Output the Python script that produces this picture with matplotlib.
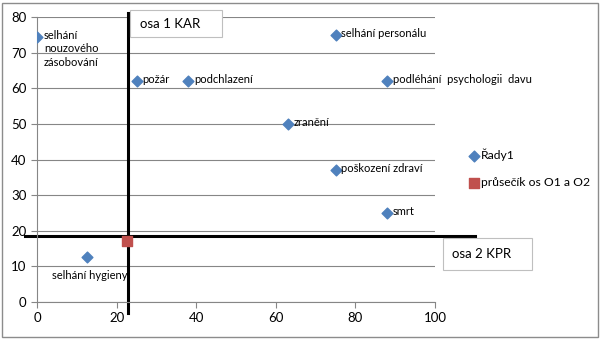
import matplotlib
matplotlib.use("Agg")
import matplotlib.pyplot as plt
from matplotlib.patches import Rectangle

plt.rcParams['font.family'] = ['Lato', 'DejaVu Sans']

# data
labels = ["selhání\nnouzového\nzásobování", "požár", "podchlazení", "zranění",
          "selhání personálu", "podléhání  psychologii  davu", "poškození zdraví",
          "smrt", "selhání hygieny"]
x_vals = [0, 25, 38, 63, 75, 88, 75, 88, 12.5]
y_vals = [74.5, 62, 62, 50, 75, 62, 37, 25, 12.5]
cross_x = [22.5]
cross_y = [17]
kar = 22.9   # osa 1
kpr = 18.5   # osa 2

fig = plt.figure(figsize=(6.05, 3.41), dpi=100)
fig.patches.append(Rectangle((0.004, 0.012), 0.984, 0.98, transform=fig.transFigure,
                             fill=False, edgecolor="#8c8c8c", linewidth=1))
ax = fig.add_axes([0.0612, 0.1144, 0.658, 0.8356])

ax.scatter(x_vals, y_vals, marker="D", s=30, color="#4F81BD", label="Řady1", zorder=3)
ax.scatter(cross_x, cross_y, marker="s", s=45, color="#C0504D",
           label="průsečík os O1 a O2", zorder=3)

for lab, xv, yv in zip(labels, x_vals, y_vals):
    if lab == "selhání hygieny":
        ax.annotate(lab, (xv, yv), xytext=(2, -9), textcoords="offset points",
                    fontsize=8, va="top", ha="center")
    elif lab.startswith("selhání\n"):
        ax.annotate(lab, (xv, yv), xytext=(5, 5), textcoords="offset points",
                    fontsize=8, va="top", ha="left", linespacing=1.3)
    else:
        ax.annotate(lab, (xv, yv), xytext=(4, 1), textcoords="offset points",
                    fontsize=8, va="center", ha="left")

# axis lines
ax.plot([kar, kar], [81, -3], color="black", lw=2.2, clip_on=False, zorder=2)
ax.plot([-3, 110], [kpr, kpr], color="black", lw=2.2, clip_on=False, zorder=2)

# text boxes
fig.patches.append(Rectangle((0.215, 0.8915), 0.152, 0.079, transform=fig.transFigure,
                             fc="white", ec="#bfbfbf", lw=0.8, zorder=5))
fig.text(0.231, 0.931, "osa 1 KAR", fontsize=9.5, va="center", ha="left", zorder=6)
fig.patches.append(Rectangle((0.732, 0.2082), 0.147, 0.0938, transform=fig.transFigure,
                             fc="white", ec="#bfbfbf", lw=0.8, zorder=5))
fig.text(0.747, 0.255, "osa 2 KPR", fontsize=9.5, va="center", ha="left", zorder=6)

ax.set_xlim(0, 100)
ax.set_ylim(0, 80)
ax.set_xticks(range(0, 101, 20))
ax.set_yticks(range(0, 81, 10))
ax.tick_params(labelsize=9.5, color="#868686", length=4, direction="out")
ax.grid(axis="y", color="#868686", lw=0.8)
ax.set_axisbelow(True)
for s in ["top", "right"]:
    ax.spines[s].set_visible(False)
for s in ["left", "bottom"]:
    ax.spines[s].set_color("#868686")

ax.legend(loc="center left", bbox_to_anchor=(1.055, 0.47), frameon=False,
          fontsize=8.7, handletextpad=0.1, handlelength=1, labelspacing=1.3)

fig.savefig("out.png", dpi=100)
